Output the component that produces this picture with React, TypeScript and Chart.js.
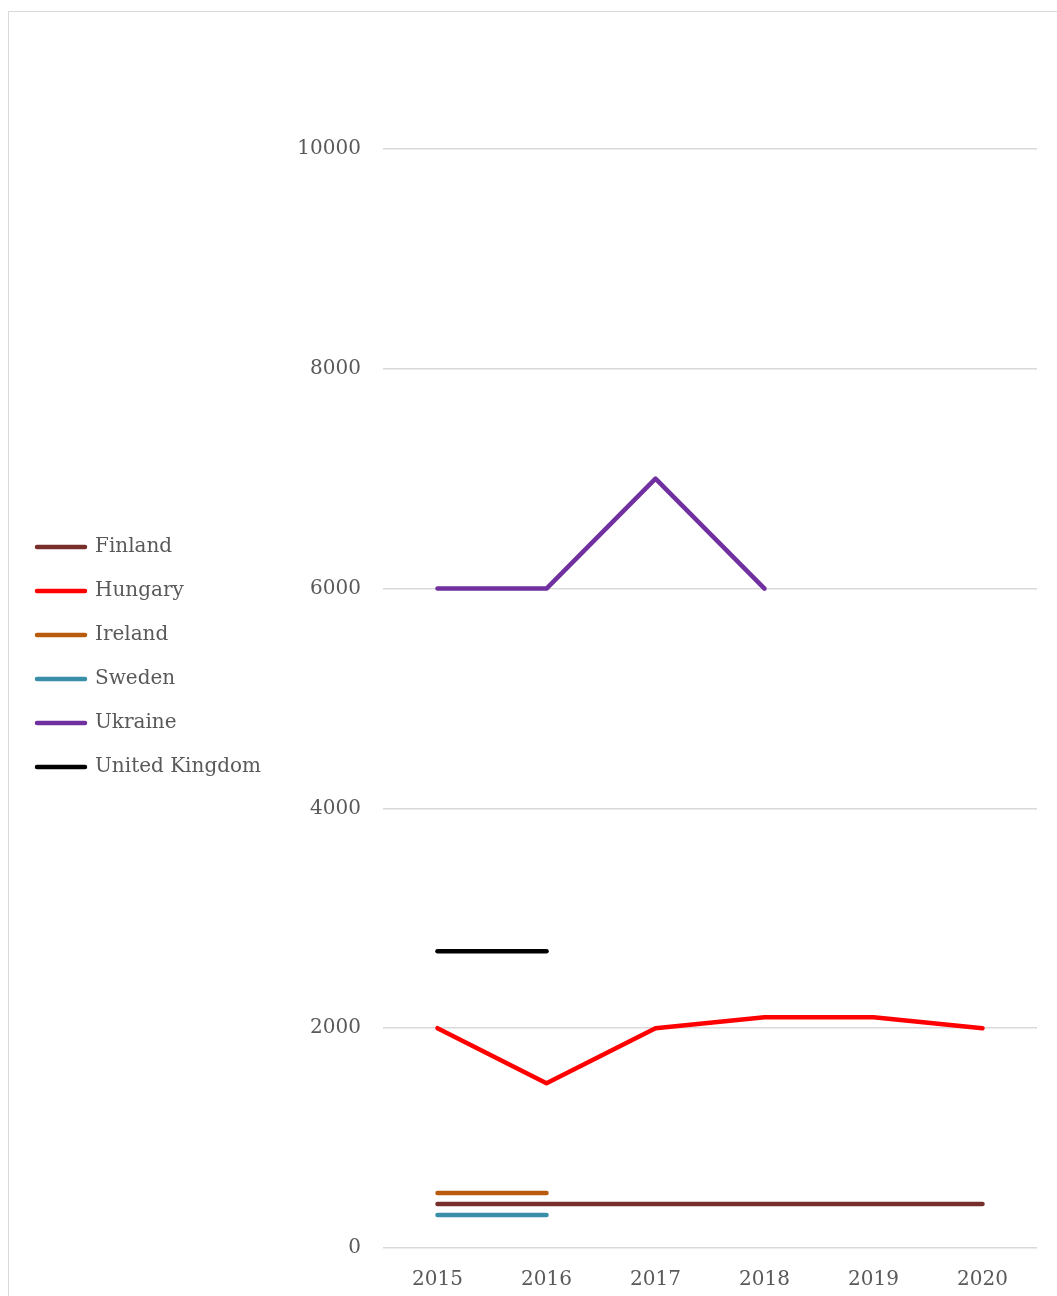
import React, { useEffect, useRef } from "react";
import { Chart, registerables } from "chart.js";

Chart.register(...registerables);

const years = ["2015", "2016", "2017", "2018", "2019", "2020"];
const finland = [400, 400, 400, 400, 400, 400];
const hungary = [2000, 1500, 2000, 2100, 2100, 2000];
const ireland = [500, 500, null, null, null, null];
const sweden = [300, 300, null, null, null, null];
const ukraine = [6000, 6000, 7000, 6000, null, null];
const unitedKingdom = [2700, 2700, null, null, null, null];

const seriesNames = ["Finland", "Hungary", "Ireland", "Sweden", "Ukraine", "United Kingdom"];
const seriesColors = ["#772f2b", "#ff0000", "#b85b0e", "#3a8fa8", "#7030a0", "#000000"];
const seriesValues = [finland, hungary, ireland, sweden, ukraine, unitedKingdom];

const yTicks = [0, 2000, 4000, 6000, 8000, 10000];

const FONT = "'DejaVu Serif', serif";
const TEXT = "#595959";
const GRID = "#d9d9d9";

export default function App() {
  const ref = useRef<HTMLCanvasElement | null>(null);

  useEffect(() => {
    if (!ref.current) return;
    const chart = new Chart(ref.current, {
      type: "line",
      data: {
        labels: years,
        datasets: seriesNames.map((name, i) => ({
          label: name,
          data: seriesValues[i],
          borderColor: seriesColors[i],
          backgroundColor: seriesColors[i],
          borderWidth: 4.5,
          borderCapStyle: "round",
          borderJoinStyle: "round",
          pointRadius: 0,
          pointHoverRadius: 0,
          tension: 0,
          spanGaps: false,
        })),
      },
      options: {
        animation: false,
        responsive: false,
        maintainAspectRatio: false,
        layout: { padding: { top: 0, right: 20, bottom: 0, left: 4 } },
        plugins: {
          tooltip: { enabled: false },
          title: {
            display: true,
            text: " ",
            font: { size: 10 },
            padding: { top: 125, bottom: 0 },
          },
          legend: {
            position: "left",
            maxWidth: 280,
            labels: {
              font: { family: FONT, size: 20 },
              color: TEXT,
              usePointStyle: true,
              pointStyleWidth: 48,
              padding: 24,
              generateLabels: (c: any) =>
                c.data.datasets.map((d: any, i: number) => ({
                  text: d.label,
                  fillStyle: d.borderColor,
                  strokeStyle: d.borderColor,
                  lineWidth: 4.5,
                  lineCap: "round",
                  pointStyle: "line",
                  fontColor: TEXT,
                  hidden: false,
                  datasetIndex: i,
                })),
            },
          },
        },
        scales: {
          x: {
            offset: true,
            grid: { display: false, drawTicks: false },
            border: { display: false },
            ticks: { font: { family: FONT, size: 20 }, color: TEXT, padding: 20 },
            afterFit: (s: any) => {
              s.height = 54;
            },
          },
          y: {
            min: 0,
            max: 10000,
            afterBuildTicks: (s: any) => {
              s.ticks = yTicks.map((v) => ({ value: v }));
            },
            grid: { color: GRID, lineWidth: 1.5, drawTicks: false },
            border: { display: false },
            ticks: {
              font: { family: FONT, size: 20 },
              color: TEXT,
              padding: 22,
              callback: (v: any) => String(v),
            },
            afterFit: (s: any) => {
              s.width = 112;
            },
          },
        },
      },
    });
    return () => chart.destroy();
  }, []);

  return (
    <div style={{ position: "fixed", inset: 0, overflow: "hidden", background: "#fff" }}>
      <div
        style={{
          position: "absolute",
          left: 8,
          top: 11,
          width: 1200,
          height: 1400,
          borderLeft: "1.5px solid " + GRID,
          borderTop: "1.5px solid " + GRID,
        }}
      >
        <canvas ref={ref} width={1048} height={1290} style={{ display: "block" }} />
      </div>
    </div>
  );
}
